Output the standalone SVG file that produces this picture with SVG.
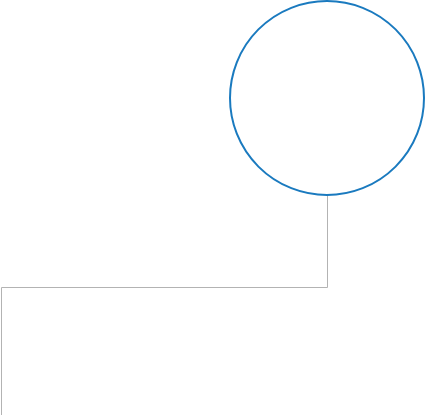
<svg xmlns="http://www.w3.org/2000/svg" width="426" height="415" viewBox="0 0 426 415">
<style>
.node{fill:#ffffff;stroke:#1a7abf;stroke-width:2}
.edge{fill:none;stroke:#b3b3b3;stroke-width:1}
</style>
<rect width="426" height="415" fill="#ffffff"/>
<g id="connectors">
<path class="edge" d="M327.5 195 V287.5 H1.5 V415"/>
</g>
<g id="node-circle">
<circle class="node" cx="327" cy="98" r="97"/>
</g>
</svg>
